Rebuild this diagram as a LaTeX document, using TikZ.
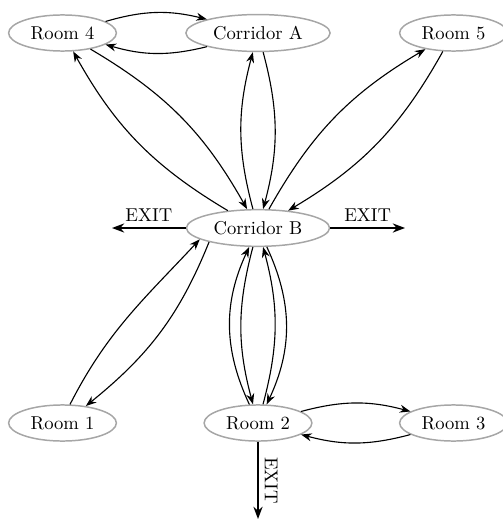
\documentclass[tikz,border=0pt]{standalone}
\usetikzlibrary{arrows.meta,shapes.geometric}
\begin{document}
\begin{tikzpicture}[x=0.5376pt,y=-0.5376pt,
  room/.style={ellipse,draw=gray!70,thick,font=\normalsize},
  link/.style={-{Stealth},semithick},
  exitarrow/.style={-{Stealth},thick}]
\useasboundingbox (0,0) rectangle (502,519);
\node[room] (r4) at (62.5,33) {Room 4};
\node[room] (ca) at (258,33) {Corridor A};
\node[room] (r5) at (453.5,33) {Room 5};
\node[room] (cb) at (258,228) {Corridor B};
\node[room] (r1) at (62.5,423) {Room 1};
\node[room] (r2) at (258,423) {Room 2};
\node[room] (r3) at (453.5,423) {Room 3};
\coordinate (exl) at (112,228);
\coordinate (exr) at (405,228);
\coordinate (exd) at (258,519);
\path[link] (r4) edge[bend left=15] (ca)
            (ca) edge[bend left=15] (r4)
            (r2) edge[bend left=15] (r3)
            (r3) edge[bend left=15] (r2)
            (cb) edge[bend left=15] (r4)
            (r4) edge[bend left=15] (cb)
            (cb) edge[bend left=15] (ca)
            (ca) edge[bend left=15] (cb)
            (cb) edge[bend left=15] (r5)
            (r5) edge[bend left=15] (cb)
            (cb) edge[bend left=25] (r2)
            (r2) edge[bend left=25] (cb)
            (cb) edge[bend right=15] (r2)
            (r2) edge[bend right=15] (cb);
\draw[link] (r1.68) to[out=63,in=227] (cb.191);
\draw[link] (cb.196) to[out=248,in=39] (r1.36);
\draw[exitarrow] (cb) -- node[above,sloped]{EXIT} (exl);
\draw[exitarrow] (cb) -- node[above,sloped]{EXIT} (exr);
\draw[exitarrow] (r2) -- node[above,sloped]{EXIT} (exd);
\end{tikzpicture}
\end{document}
